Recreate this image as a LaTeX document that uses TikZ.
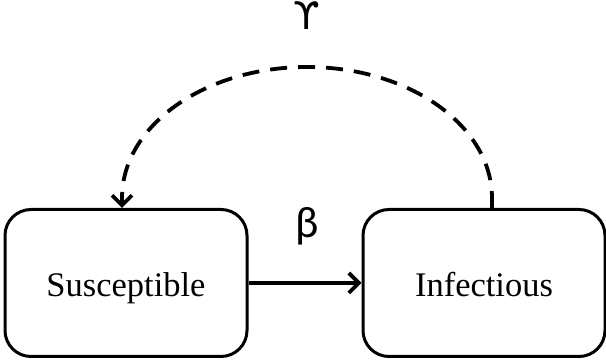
\documentclass[tikz,border=0pt]{standalone}
\usepackage{fontspec}
\setmainfont{Liberation Serif}
\newfontfamily\greekfont{DejaVu Sans}
\newfontfamily\carlfont{Carlito}
\usetikzlibrary{arrows.meta}
\begin{document}
\begin{tikzpicture}[x=1pt,y=1pt,
  box/.style={draw, line width=3pt, rounded corners=26pt, minimum width=242pt, minimum height=147pt, inner sep=0pt, text height=36pt, text depth=8pt, font=\fontsize{34.5}{40}\selectfont},
  conn/.style={line width=3.8pt, -{Straight Barb[length=10pt,width=20pt,line width=3.8pt]}},
  lbl/.style={inner sep=0pt}]
\useasboundingbox (0,0) rectangle (606,361);
\node[box] (S) at (126,78) {Susceptible};
\node[box] (I) at (484,78) {Infectious};
\draw[conn] (S.east) -- (I.west);
\node[lbl, font=\carlfont\fontsize{44}{48}\selectfont] (beta) at (307,135) {β};
\coordinate (a) at ([xshift=8pt]I.north);
\coordinate (b) at ([xshift=-4pt]S.north);
\draw[conn, dash pattern=on 17pt off 11pt] (a) -- ++(0,10) arc[start angle=0, end angle=180, x radius=185, y radius=131] -- (b);
\node[lbl, font=\greekfont\fontsize{38}{42}\selectfont] (gamma) at (307,345) {ϒ};
\end{tikzpicture}
\end{document}
